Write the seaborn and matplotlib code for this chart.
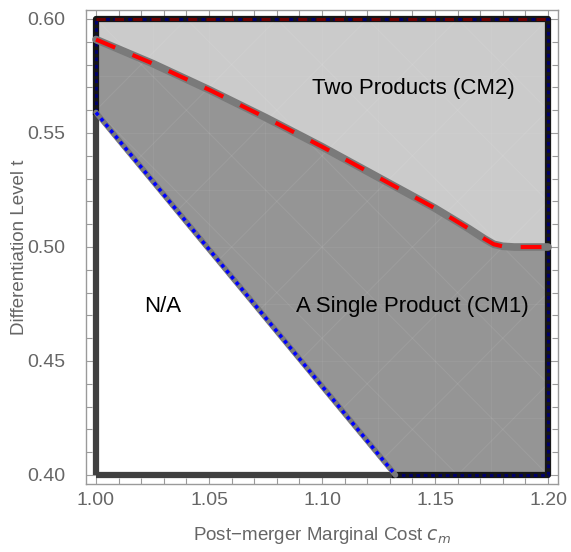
import numpy as np
import pandas as pd
import matplotlib
matplotlib.use("Agg")
import matplotlib.pyplot as plt
from matplotlib.ticker import MultipleLocator, FormatStrFormatter
import seaborn as sns

# ---- data ----
cm2_c = [1.000, 1.025, 1.050, 1.075, 1.100, 1.125, 1.150, 1.165, 1.172, 1.176, 1.180, 1.185, 1.200]
cm2_t = [0.5910, 0.5805, 0.5690, 0.5568, 0.5440, 0.5305, 0.5170, 0.5080, 0.5035, 0.5012, 0.5003, 0.5000, 0.5000]
na_c = [1.000, 1.1325]
na_t = [0.559, 0.400]
x_ticks = [1.00, 1.05, 1.10, 1.15, 1.20]
y_ticks = [0.40, 0.45, 0.50, 0.55, 0.60]
region_labels = ["Two Products (CM2)", "A Single Product (CM1)", "N/A"]
label_c = [1.1403, 1.1398, 1.0296]
label_t = [0.5697, 0.4737, 0.4737]

sns.set_style("ticks")
plt.rcParams['font.family'] = ['Liberation Sans', 'DejaVu Sans']

fig = plt.figure(figsize=(5.71, 5.52), dpi=100)
ax = fig.add_axes([86/571, 1-484/552, 472/571, 474/552])

xmin, xmax, ymin, ymax = 1.0, 1.2, 0.40, 0.60
grid = np.linspace(xmin, xmax, 801)
upper = np.interp(grid, cm2_c, cm2_t)
lower = np.interp(grid, na_c, na_t, right=ymin)

# regions
ax.fill_between(grid, upper, ymax, color="#cbcbcb", lw=0, zorder=1)
ax.fill_between(grid, lower, upper, color="#959595", lw=0, zorder=1)

# faint mesh lines (diagonal, light)
for k in np.arange(-0.6, 0.6, 0.04):
    xs = np.array([xmin, xmax])
    ax.plot(xs, ymin + k + (xs - xmin), color="white", alpha=0.07, lw=0.8, zorder=1.5)
    ax.plot(xs, ymax + k - (xs - xmin), color="white", alpha=0.07, lw=0.8, zorder=1.5)
for v in np.arange(1.0, 1.2, 0.025):
    ax.axvline(v, color="white", alpha=0.05, lw=0.8, zorder=1.5)
for h in np.arange(0.4, 0.6, 0.025):
    ax.axhline(h, color="white", alpha=0.05, lw=0.8, zorder=1.5)
# re-white the N/A region
ax.fill_between(grid, ymin, lower, color="white", lw=0, zorder=1.6)

# boundaries of N/A region (solid dark gray)
ax.plot([xmin, xmin], [ymin, na_t[0]], color="#404040", lw=4.5, solid_capstyle="butt", zorder=3)
ax.plot([xmin, na_c[1]], [ymin, ymin], color="#404040", lw=4.5, solid_capstyle="butt", zorder=3)

# outer borders of CM regions
dark_c = [xmin, xmin, xmax, xmax, na_c[1]]
dark_t = [na_t[0], ymax, ymax, ymin, ymin]
ax.plot(dark_c, dark_t, color="#161616", lw=4.5, solid_capstyle="projecting", zorder=3)
ax.plot(dark_c, dark_t, color="#00006a", lw=2.2, ls=(0, (1.2, 1.2)), zorder=3.2)
ax.plot([xmin, xmax], [ymax, ymax], color="#6a0000", lw=2.2, ls=(0, (3, 3)), zorder=3.3)

# CM2 boundary: gray band with red dashes
df_cm2 = pd.DataFrame({"c": cm2_c, "t": cm2_t})
sns.lineplot(data=df_cm2, x="c", y="t", sort=False, color="#7a7a7a", lw=5.5, ax=ax, zorder=4)
sns.lineplot(data=df_cm2, x="c", y="t", sort=False, color="#ff0000", lw=3.0, ax=ax,
             zorder=5, linestyle=(0, (5.0, 4.5)))

# N/A boundary: gray band with blue dots
df_na = pd.DataFrame({"c": na_c, "t": na_t})
sns.lineplot(data=df_na, x="c", y="t", sort=False, color="#7a7a7a", lw=4, ax=ax, zorder=4)
sns.lineplot(data=df_na, x="c", y="t", sort=False, color="#0000ff", lw=2.6, ax=ax,
             zorder=5, linestyle=(0, (1.0, 1.1)))

for txt, c, t in zip(region_labels, label_c, label_t):
    ax.text(c, t, txt, ha="center", va="center", fontsize=16, color="black", zorder=6)

ax.set_xlim(xmin - 10/2260, xmax + 10/2260)
ax.set_ylim(ymin - 9/2280, ymax + 9/2280)
ax.set_xticks(x_ticks)
ax.set_yticks(y_ticks)
ax.xaxis.set_major_formatter(FormatStrFormatter("%.2f"))
ax.yaxis.set_major_formatter(FormatStrFormatter("%.2f"))
ax.xaxis.set_minor_locator(MultipleLocator(0.01))
ax.yaxis.set_minor_locator(MultipleLocator(0.01))
ax.tick_params(which="both", direction="in", top=True, right=True, color="#9a9a9a", width=0.8)
ax.tick_params(which="major", length=7)
ax.tick_params(which="minor", length=4)
ax.tick_params(axis="x", which="major", labelsize=14, labelcolor="#666666", pad=6)
ax.tick_params(axis="y", which="major", labelsize=14, labelcolor="#666666", pad=15)
for s in ax.spines.values():
    s.set_color("#9a9a9a")
    s.set_linewidth(1.0)

ax.set_xlabel("Post\u2212merger Marginal Cost $c_m$", fontsize=13.5, color="#666666")
ax.set_ylabel("Differentiation Level t", fontsize=13.5, color="#666666")
ax.xaxis.set_label_coords(0.5, (552 - 535) / 474 - (552 - 484) / 474, transform=ax.transAxes)
ax.yaxis.set_label_coords((20 - 86) / 472, 0.5, transform=ax.transAxes)
ax.xaxis.label.set_verticalalignment("center")
ax.yaxis.label.set_verticalalignment("center")

fig.savefig("out.png", dpi=100)
